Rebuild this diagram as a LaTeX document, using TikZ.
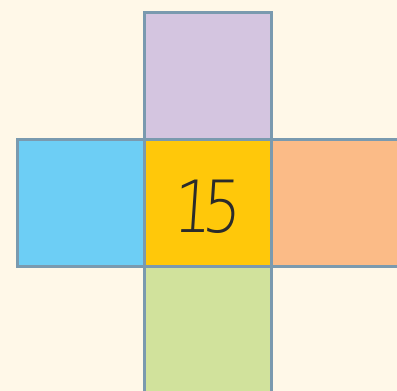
\documentclass[tikz,border=0pt]{standalone}
\usepackage{fontspec}
\newfontfamily\thinfont{DejaVu Sans ExtraLight}
\definecolor{bg}{HTML}{FFF8E8}
\definecolor{cpurple}{HTML}{D4C5E0}
\definecolor{cyellow}{HTML}{FFC80A}
\definecolor{cblue}{HTML}{6DCEF5}
\definecolor{corange}{HTML}{FBBB87}
\definecolor{cgreen}{HTML}{D1E29C}
\definecolor{edge}{HTML}{7A9AAF}
\definecolor{ink}{HTML}{2B2B2B}
\begin{document}
\begin{tikzpicture}[x=1pt,y=-1pt,
  cell/.style={draw=edge, line width=3pt}]
\fill[bg] (0,0) rectangle (397,391);
\useasboundingbox (0,0) rectangle (397,391);
\clip (0,0) rectangle (397,391);
\path[cell, fill=cpurple] (144.5,12.5) rectangle (271.5,139.5);
\path[cell, fill=cblue] (17,139.5) rectangle (144.5,266.5);
\path[cell, fill=corange] (271.5,139.5) rectangle (400,266.5);
\path[cell, fill=cgreen] (144.5,266.5) rectangle (271.5,395);
\path[cell, fill=cyellow] (144.5,139.5) rectangle (271.5,266.5);
\node[text=ink, xscale=0.85, xslant=0.08] (n) at (208,206.5) {\thinfont\fontsize{72}{72}\selectfont 1\kern-12pt5};
\end{tikzpicture}
\end{document}
